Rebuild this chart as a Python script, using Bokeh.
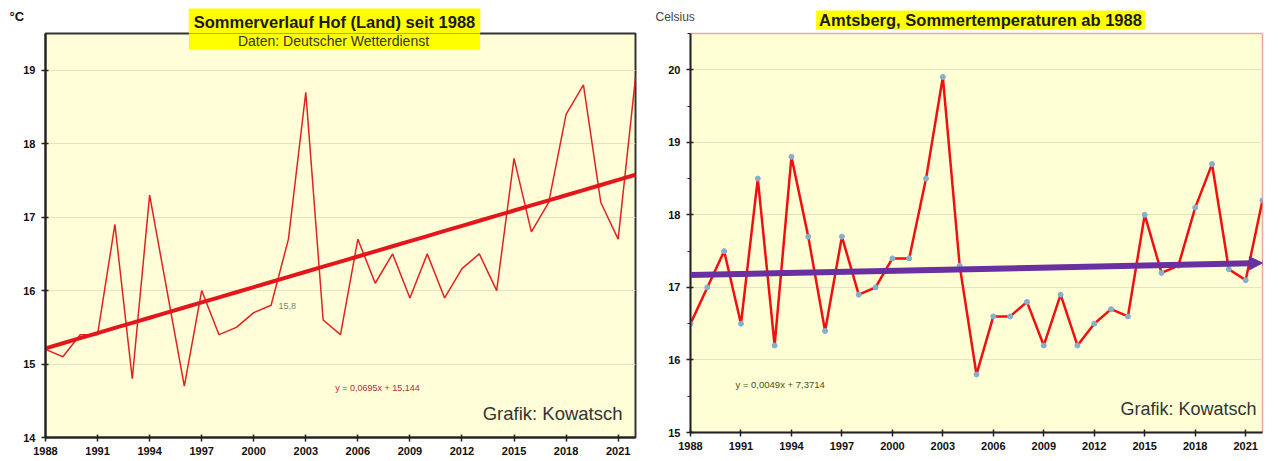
from bokeh.plotting import figure
from bokeh.layouts import row
from bokeh.models import Label, FixedTicker, Arrow, NormalHead, Range1d, BoxAnnotation
from bokeh.embed import file_html
from bokeh.resources import INLINE

# ---------------- data ----------------
years = [1988, 1989, 1990, 1991, 1992, 1993, 1994, 1995, 1996, 1997,
         1998, 1999, 2000, 2001, 2002, 2003, 2004, 2005, 2006, 2007,
         2008, 2009, 2010, 2011, 2012, 2013, 2014, 2015, 2016, 2017,
         2018, 2019, 2020, 2021, 2022]
year_ticks = [1988, 1991, 1994, 1997, 2000, 2003, 2006, 2009, 2012, 2015, 2018, 2021]
hof_ticks = [14, 15, 16, 17, 18, 19]
amts_ticks = [15, 16, 17, 18, 19, 20]
amts_minor = [15.5, 16.5, 17.5, 18.5, 19.5, 20.5]

hof_temp = [15.2, 15.1, 15.4, 15.4, 16.9, 14.8, 17.3, 16.0, 14.7, 16.0,
            15.4, 15.5, 15.7, 15.8, 16.7, 18.7, 15.6, 15.4, 16.7, 16.1,
            16.5, 15.9, 16.5, 15.9, 16.3, 16.5, 16.0, 17.8, 16.8, 17.2,
            18.4, 18.8, 17.2, 16.7, 18.9]
amts_temp = [16.5, 17.0, 17.5, 16.5, 18.5, 16.2, 18.8, 17.7, 16.4, 17.7,
             16.9, 17.0, 17.4, 17.4, 18.5, 19.9, 17.3, 15.8, 16.6, 16.6,
             16.8, 16.2, 16.9, 16.2, 16.5, 16.7, 16.6, 18.0, 17.2, 17.3,
             18.1, 18.7, 17.25, 17.1, 18.2]

hof_slope = 0.0695
hof_intercept = 15.144
amts_slope = 0.0049
amts_trend_start = 17.17

hof_title = "Sommerverlauf Hof (Land) seit 1988"
hof_subtitle = "Daten: Deutscher Wetterdienst"
hof_equation = "y = 0,0695x + 15,144"
hof_unit = "°C"
amts_title = "Amtsberg, Sommertemperaturen ab 1988"
amts_equation = "y = 0,0049x + 7,3714"
amts_unit = "Celsius"
credit = "Grafik: Kowatsch"
annot_index = 13  # 2001 value label

SANS = "Liberation Sans, Arial, sans-serif"
YELLOW = "#FFFF00"

hof_trend = [hof_intercept + hof_slope * (i + 1) for i in range(len(years))]
amts_trend = [amts_trend_start + amts_slope * (y - years[0]) for y in years]

BOTTOM_BORDER = 24  # plots in a row share aligned borders

# ---------------- left chart ----------------
L_W, L_H = 648, 461
L_LEFT, L_RIGHT, L_TOP, L_BOT = 45, 635, 33, 437  # page px of frame


def lx(s):
    return years[0] + (s - L_LEFT) / (L_RIGHT - L_LEFT) * (years[-1] - years[0])


def ly(s):
    return hof_ticks[0] + (L_BOT - s) / (L_BOT - L_TOP) * 5.5


p1 = figure(width=L_W, height=L_H, output_backend="svg", toolbar_location=None,
            x_range=Range1d(years[0], years[-1]), y_range=Range1d(14, 19.5),
            min_border_left=L_LEFT, min_border_right=L_W - L_RIGHT,
            min_border_top=L_TOP, min_border_bottom=BOTTOM_BORDER,
            background_fill_color="#FFFED9", border_fill_color="white")
p1.outline_line_color = "#333333"
p1.outline_line_width = 2

p1.line(years, hof_temp, line_width=1.5, color="#E2221E")
p1.line(years, hof_trend, line_width=4, color="#E3171B")

# ---------------- right chart ----------------
R_ORIGIN = 648
R_W = 630
R_LEFT, R_RIGHT, R_TOP, R_BOT = 690, 1262, 33, 432
R_H = R_BOT + BOTTOM_BORDER


def rx(s):
    return years[0] + (s - R_LEFT) / (R_RIGHT - R_LEFT) * (years[-1] - years[0])


def ry(s):
    return amts_ticks[0] + (R_BOT - s) / (R_BOT - R_TOP) * 5.5


p2 = figure(width=R_W, height=R_H, output_backend="svg", toolbar_location=None,
            x_range=Range1d(years[0], years[-1]), y_range=Range1d(15, 20.5),
            min_border_left=R_LEFT - R_ORIGIN, min_border_right=R_W - (R_RIGHT - R_ORIGIN),
            min_border_top=R_TOP, min_border_bottom=BOTTOM_BORDER,
            background_fill_color="#FFFFD6", border_fill_color="white")
p2.outline_line_color = "#E8A8A8"
p2.outline_line_width = 1.5

p2.line(years, amts_temp, line_width=2.5, color="#F01010")
p2.scatter(years, amts_temp, size=5, color="#86AECF")
p2.add_layout(Arrow(end=NormalHead(size=13, fill_color="#6A2FA0", line_color="#6A2FA0"),
                    x_start=years[0], y_start=amts_trend[0],
                    x_end=years[-1], y_end=amts_trend[-1],
                    line_width=6, line_color="#6A2FA0"))

# ---------------- axes ----------------
for p in (p1, p2):
    p.xgrid.grid_line_color = None
    p.ygrid.grid_line_color = "#E4E4C4"
    p.ygrid.grid_line_width = 1
    p.xaxis.ticker = FixedTicker(ticks=year_ticks)
    p.xaxis.minor_tick_line_color = None
    p.xaxis.axis_label_standoff = 0
    p.yaxis.axis_label_standoff = 0
    for ax in (p.xaxis, p.yaxis):
        ax.axis_line_color = "#222222"
        ax.axis_line_width = 2
        ax.major_tick_line_color = "#222222"
        ax.major_tick_line_width = 1.5
        ax.major_tick_in = 3
        ax.major_tick_out = 4
        ax.major_label_text_font = SANS
        ax.major_label_text_font_style = "bold"
        ax.major_label_text_font_size = "11px"
        ax.major_label_text_color = "#111111"
    p.yaxis.major_label_standoff = 6
    p.xaxis.major_label_standoff = 5

p1.yaxis.ticker = FixedTicker(ticks=hof_ticks)
p1.yaxis.minor_tick_line_color = None
p2.yaxis.ticker = FixedTicker(ticks=amts_ticks, minor_ticks=amts_minor)
p2.yaxis.minor_tick_line_color = "#222222"
p2.yaxis.minor_tick_out = 3
p2.yaxis.minor_tick_in = 0

# ---------------- texts, left ----------------
# labels placed in side panels are not clipped to the plot frame
p1.add_layout(Label(x=334, y=20.5, x_units="canvas", y_units="canvas",
                    text=hof_title, text_align="center",
                    text_baseline="middle", text_font=SANS, text_font_style="bold",
                    text_font_size="16.5px", text_color="#1A1A1A",
                    background_fill_color=YELLOW,
                    padding=dict(left=5, right=5, top=4, bottom=3)), "above")
p1.add_layout(BoxAnnotation(left=lx(188.5), right=lx(479.5), bottom=ly(49), top=19.5,
                            fill_color=YELLOW, fill_alpha=1.0, line_color=None))
p1.add_layout(Label(x=lx(333), y=ly(40), text=hof_subtitle, text_align="center",
                    text_baseline="middle", text_font=SANS,
                    text_font_size="14px", text_color="#333333"))
p1.add_layout(Label(x=9, y=16, x_units="canvas", y_units="canvas",
                    text=hof_unit, text_align="left",
                    text_baseline="middle", text_font=SANS, text_font_style="bold",
                    text_font_size="13px", text_color="#111111"), "left")
p1.add_layout(Label(x=lx(377), y=ly(387), text=hof_equation, text_align="center",
                    text_baseline="middle", text_font=SANS,
                    text_font_size="9px", text_color="#B03030"))
p1.add_layout(Label(x=lx(278), y=ly(305),
                    text=f"{hof_temp[annot_index]:.1f}".replace(".", ","),
                    text_align="left", text_baseline="middle", text_font=SANS,
                    text_font_size="9px", text_color="#6E8A6E"))
p1.add_layout(Label(x=lx(622), y=ly(413), text=credit, text_align="right",
                    text_baseline="middle", text_font=SANS,
                    text_font_size="18.5px", text_color="#333333"))

# ---------------- texts, right ----------------
p2.add_layout(Label(x=980 - R_ORIGIN, y=19.5, x_units="canvas", y_units="canvas",
                    text=amts_title, text_align="center",
                    text_baseline="middle", text_font=SANS, text_font_style="bold",
                    text_font_size="16.5px", text_color="#1A1A1A",
                    background_fill_color=YELLOW,
                    padding=dict(left=3, right=3, top=0, bottom=1)), "above")
p2.add_layout(Label(x=655 - R_ORIGIN, y=16, x_units="canvas", y_units="canvas",
                    text=amts_unit, text_align="left",
                    text_baseline="middle", text_font=SANS,
                    text_font_size="12px", text_color="#444444"), "above")
p2.add_layout(Label(x=rx(735), y=ry(384), text=amts_equation, text_align="left",
                    text_baseline="middle", text_font=SANS,
                    text_font_size="9.5px", text_color="#3F4F1F"))
p2.add_layout(Label(x=rx(1256), y=ry(408), text=credit, text_align="right",
                    text_baseline="middle", text_font=SANS,
                    text_font_size="18px", text_color="#333333"))

layout = row(p1, p2)
open("out.html", "w").write(file_html(layout, INLINE))
